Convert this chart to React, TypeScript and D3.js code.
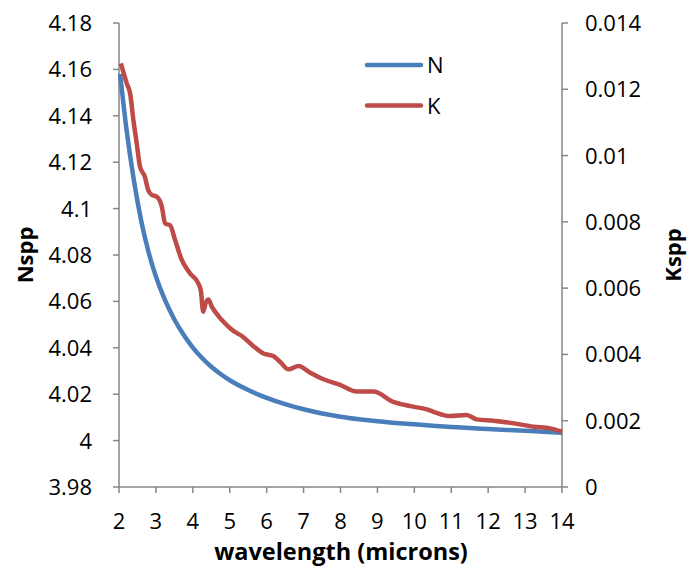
import React from "react";
import * as d3 from "d3";

const nWave = [2.03, 2.2, 2.4, 2.6, 2.8, 3.0, 3.25, 3.5, 3.75, 4.0, 4.25, 4.5, 4.75, 5.0, 5.5, 6.0, 6.5, 7.0, 7.5, 8.0, 8.5, 9.0, 9.5, 10, 10.5, 11, 11.5, 12, 12.5, 13, 13.5, 14];
const nValues = [4.158, 4.1345, 4.1125, 4.0949, 4.0813, 4.0707, 4.0604, 4.0522, 4.0456, 4.0401, 4.0356, 4.0318, 4.0287, 4.026, 4.0218, 4.0184, 4.0157, 4.0135, 4.0117, 4.0103, 4.0092, 4.0083, 4.0076, 4.007, 4.0064, 4.0059, 4.0054, 4.005, 4.0046, 4.0042, 4.0038, 4.0034];

const kWave = [2.05, 2.21, 2.3, 2.39, 2.48, 2.57, 2.7, 2.79, 2.89, 3.02, 3.16, 3.25, 3.38, 3.52, 3.7, 3.92, 4.15, 4.22, 4.28, 4.35, 4.42, 4.51, 4.7, 4.87, 5.05, 5.37, 5.64, 5.91, 6.18, 6.36, 6.59, 6.86, 7.18, 7.54, 7.99, 8.44, 8.89, 9.43, 9.89, 10.34, 10.52, 10.97, 11.42, 11.69, 12.14, 12.69, 13.23, 13.68, 14.0];
const kValues = [0.01278, 0.01218, 0.01188, 0.01107, 0.01037, 0.00966, 0.00936, 0.00896, 0.00881, 0.00876, 0.00846, 0.00795, 0.0079, 0.00745, 0.00685, 0.00645, 0.00614, 0.0059, 0.00529, 0.00556, 0.00566, 0.00545, 0.00515, 0.00494, 0.00475, 0.00452, 0.00425, 0.00403, 0.00395, 0.00378, 0.00355, 0.00365, 0.00345, 0.00325, 0.00308, 0.00288, 0.00288, 0.00257, 0.00244, 0.00234, 0.00227, 0.00214, 0.00217, 0.00204, 0.002, 0.00192, 0.00182, 0.00177, 0.00167];

const xTicks = [2, 3, 4, 5, 6, 7, 8, 9, 10, 11, 12, 13, 14];
const leftTicks = [3.98, 4, 4.02, 4.04, 4.06, 4.08, 4.1, 4.12, 4.14, 4.16, 4.18];
const rightTicks = [0, 0.002, 0.004, 0.006, 0.008, 0.01, 0.012, 0.014];
const seriesNames = ["N", "K"];
const seriesColors = ["#4A7EBB", "#BE4B48"];

const FONT = "'Open Sans', 'Noto Sans', sans-serif";

export default function App() {
  const W = 687, H = 566;
  const left = 119, right = 562, top = 23, bottom = 487;
  const x = d3.scaleLinear().domain([2, 14]).range([left, right]);
  const yL = d3.scaleLinear().domain([3.98, 4.18]).range([bottom, top]);
  const yR = d3.scaleLinear().domain([0, 0.014]).range([bottom, top]);

  const nLine = d3.line<number>().x((_, i) => x(nWave[i])).y((d) => yL(d)).curve(d3.curveMonotoneX);
  const kLine = d3.line<number>().x((_, i) => x(kWave[i])).y((d) => yR(d)).curve(d3.curveMonotoneX);
  const axisColor = "#868686";
  const fmtL = (v: number) => String(+v.toFixed(2));
  const fmtR = (v: number) => String(+v.toFixed(3));

  return (
    <svg width={W} height={H} style={{ position: "absolute", left: 0, top: 0 }} fontFamily={FONT}>
      <rect width={W} height={H} fill="#fff" />
      <line x1={left} x2={left} y1={top} y2={bottom} stroke={axisColor} strokeWidth={1.5} />
      <line x1={right} x2={right} y1={top} y2={bottom} stroke={axisColor} strokeWidth={1.5} />
      <line x1={left} x2={right} y1={bottom} y2={bottom} stroke={axisColor} strokeWidth={1.5} />
      {leftTicks.map((t) => (
        <g key={"l" + t}>
          <line x1={left - 6} x2={left} y1={yL(t)} y2={yL(t)} stroke={axisColor} strokeWidth={1.5} />
          <text x={92} y={yL(t) + 8} textAnchor="end" fontSize={22} fill="#000">{fmtL(t)}</text>
        </g>
      ))}
      {rightTicks.map((t) => (
        <g key={"r" + t}>
          <line x1={right} x2={right + 6} y1={yR(t)} y2={yR(t)} stroke={axisColor} strokeWidth={1.5} />
          <text x={585} y={yR(t) + 8} textAnchor="start" fontSize={22} fill="#000">{fmtR(t)}</text>
        </g>
      ))}
      {xTicks.map((t) => (
        <g key={"x" + t}>
          <line x1={x(t)} x2={x(t)} y1={bottom} y2={bottom + 6} stroke={axisColor} strokeWidth={1.5} />
          <text x={x(t)} y={529} textAnchor="middle" fontSize={22} fill="#000">{t}</text>
        </g>
      ))}
      <path d={nLine(nValues) || ""} fill="none" stroke={seriesColors[0]} strokeWidth={4.5} strokeLinejoin="round" />
      <path d={kLine(kValues) || ""} fill="none" stroke={seriesColors[1]} strokeWidth={4.5} strokeLinejoin="round" />
      {seriesNames.map((s, i) => (
        <g key={s}>
          <line x1={367} x2={421} y1={65 + i * 40.5} y2={65 + i * 40.5} stroke={seriesColors[i]} strokeWidth={4.5} strokeLinecap="round" />
          <text x={427} y={73 + i * 40.5} fontSize={22} fill="#000">{s}</text>
        </g>
      ))}
      <text transform="translate(33,255) rotate(-90)" textAnchor="middle" fontSize={22} fontWeight="bold" fill="#000">Nspp</text>
      <text transform="translate(681,255) rotate(-90)" textAnchor="middle" fontSize={22} fontWeight="bold" fill="#000">Kspp</text>
      <text x={341} y={560} textAnchor="middle" fontSize={23.5} fontWeight="bold" fill="#000">wavelength (microns)</text>
    </svg>
  );
}
